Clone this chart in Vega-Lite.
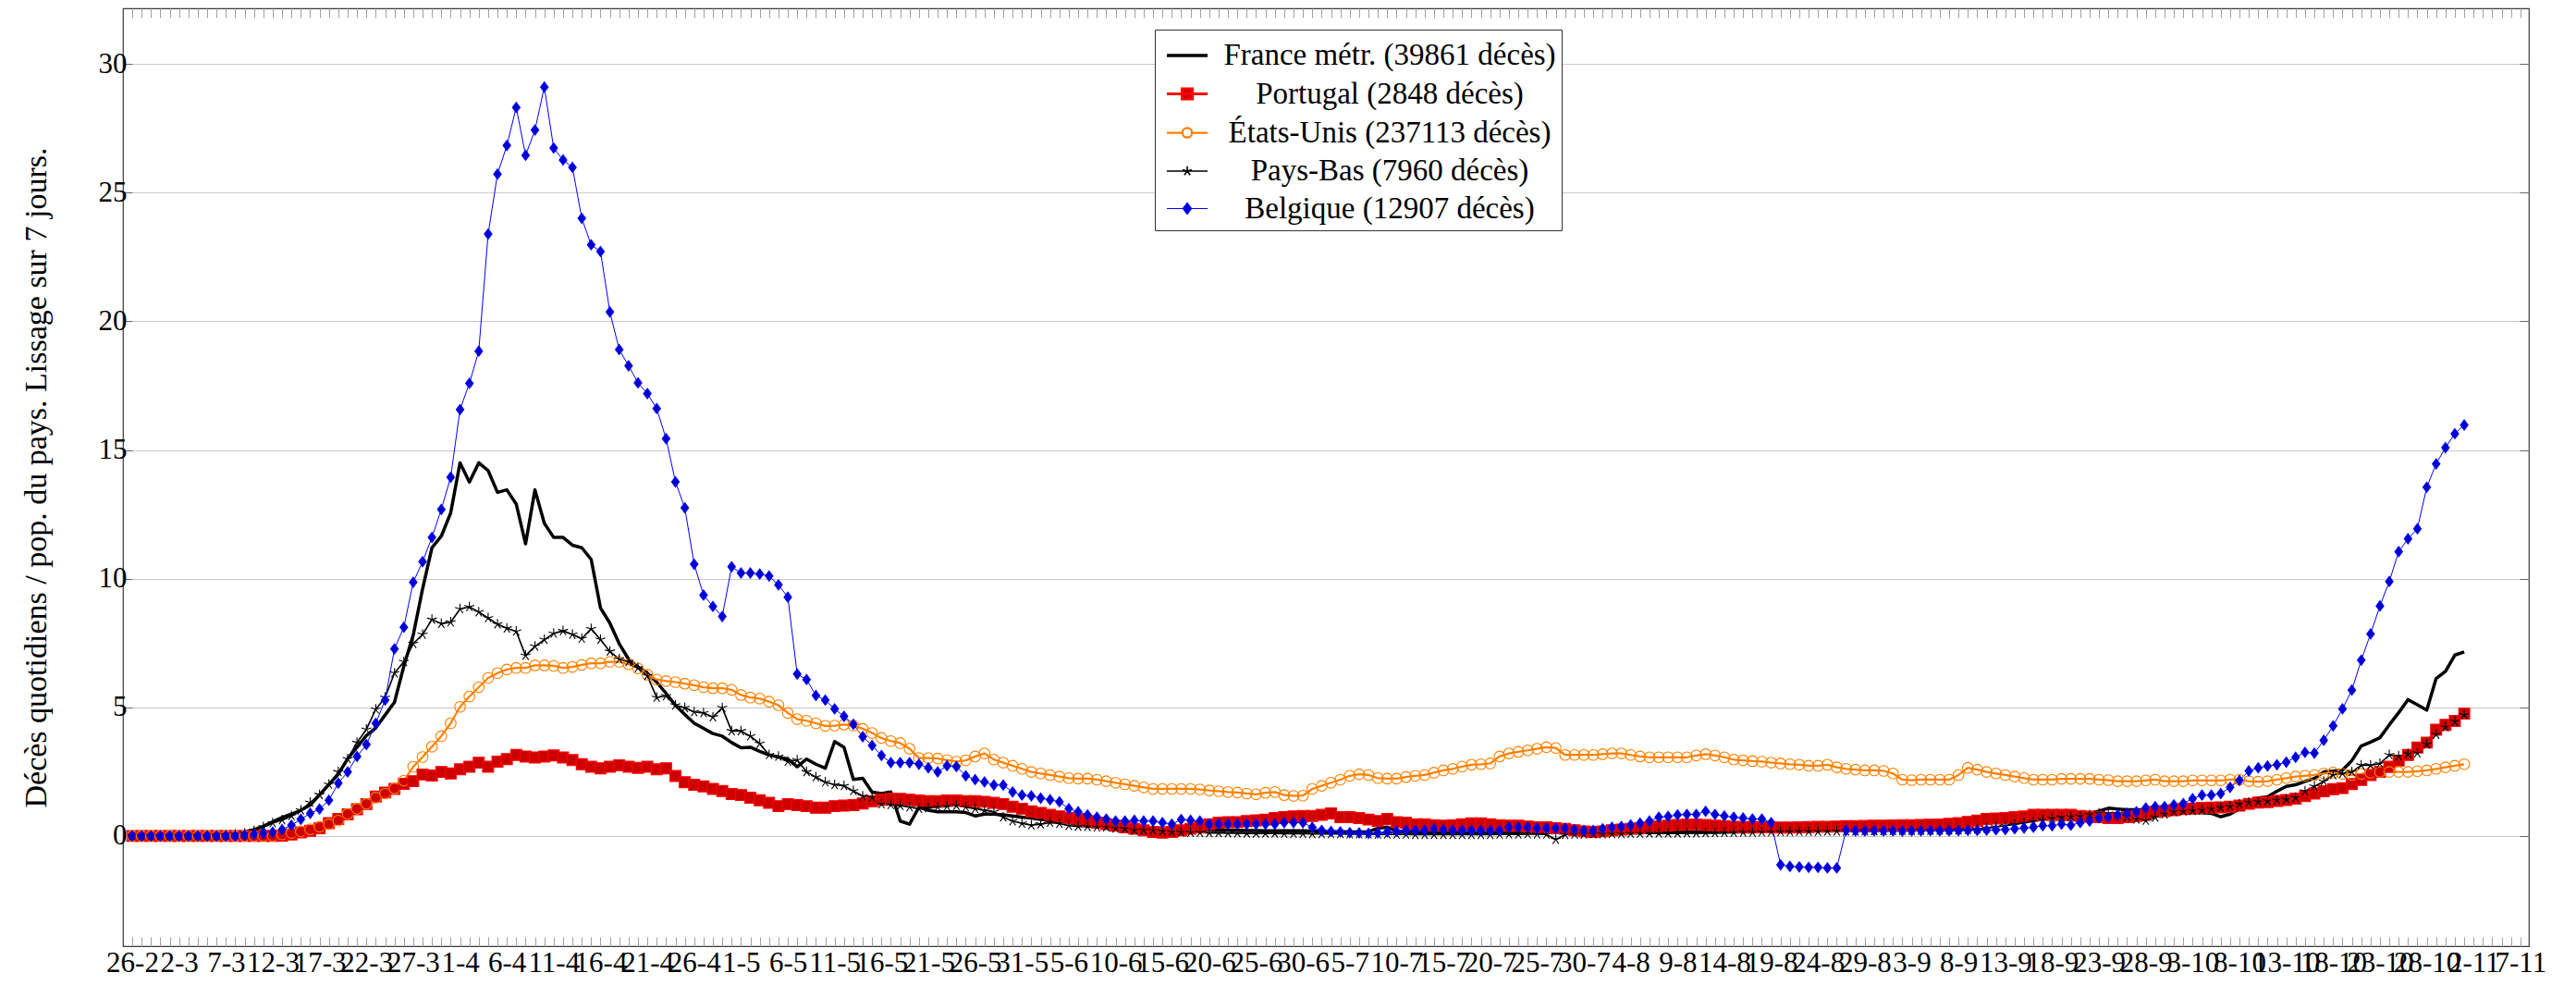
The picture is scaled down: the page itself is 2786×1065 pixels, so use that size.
{
  "$schema": "https://vega.github.io/schema/vega-lite/v6.json",
  "width": 2602,
  "height": 1014,
  "autosize": "none",
  "padding": {"left": 133, "top": 9, "right": 51, "bottom": 42},
  "background": "white",
  "config": {"view": {"stroke": "#3a3a3a", "strokeWidth": 1.2}, "font": "Liberation Serif"},
  "data": {"values": [
{"d":0,"fr":0,"pt":0,"us":0,"nl":0,"be":0},
{"d":1,"fr":0,"pt":0,"us":0,"nl":0,"be":0},
{"d":2,"fr":0,"pt":0,"us":0,"nl":0,"be":0},
{"d":3,"fr":0,"pt":0,"us":0,"nl":0,"be":0},
{"d":4,"fr":0,"pt":0,"us":0,"nl":0,"be":0},
{"d":5,"fr":0,"pt":0,"us":0,"nl":0,"be":0},
{"d":6,"fr":0.01,"pt":0,"us":0,"nl":0,"be":0},
{"d":7,"fr":0.01,"pt":0,"us":0,"nl":0,"be":0},
{"d":8,"fr":0.02,"pt":0,"us":0,"nl":0,"be":0},
{"d":9,"fr":0.04,"pt":0,"us":0,"nl":0.01,"be":0},
{"d":10,"fr":0.07,"pt":0,"us":0,"nl":0.03,"be":0},
{"d":11,"fr":0.1,"pt":0,"us":0,"nl":0.06,"be":0},
{"d":12,"fr":0.16,"pt":0,"us":0,"nl":0.1,"be":0.03},
{"d":13,"fr":0.25,"pt":0,"us":0,"nl":0.2,"be":0.07},
{"d":14,"fr":0.38,"pt":0,"us":0,"nl":0.35,"be":0.1},
{"d":15,"fr":0.55,"pt":0,"us":0,"nl":0.5,"be":0.15},
{"d":16,"fr":0.72,"pt":0.01,"us":0.06,"nl":0.62,"be":0.25},
{"d":17,"fr":0.85,"pt":0.06,"us":0.12,"nl":0.78,"be":0.42},
{"d":18,"fr":1.0,"pt":0.14,"us":0.18,"nl":1.0,"be":0.65},
{"d":19,"fr":1.2,"pt":0.2,"us":0.26,"nl":1.3,"be":0.88},
{"d":20,"fr":1.6,"pt":0.3,"us":0.36,"nl":1.6,"be":1.05},
{"d":21,"fr":2.0,"pt":0.5,"us":0.46,"nl":2.0,"be":1.39},
{"d":22,"fr":2.4,"pt":0.66,"us":0.6,"nl":2.49,"be":2.05},
{"d":23,"fr":3.0,"pt":0.84,"us":0.86,"nl":2.99,"be":2.49},
{"d":24,"fr":3.45,"pt":1.04,"us":1.06,"nl":3.63,"be":3.09},
{"d":25,"fr":3.9,"pt":1.24,"us":1.25,"nl":4.14,"be":3.55},
{"d":26,"fr":4.2,"pt":1.53,"us":1.49,"nl":4.92,"be":4.38},
{"d":27,"fr":4.7,"pt":1.69,"us":1.65,"nl":5.38,"be":5.28},
{"d":28,"fr":5.2,"pt":1.83,"us":1.85,"nl":6.33,"be":7.27},
{"d":29,"fr":6.6,"pt":2.03,"us":2.15,"nl":6.77,"be":8.11},
{"d":30,"fr":7.8,"pt":2.13,"us":2.69,"nl":7.47,"be":9.86},
{"d":31,"fr":9.6,"pt":2.39,"us":3.07,"nl":7.83,"be":10.66},
{"d":32,"fr":11.2,"pt":2.35,"us":3.47,"nl":8.41,"be":11.6},
{"d":33,"fr":11.65,"pt":2.49,"us":3.88,"nl":8.25,"be":12.69},
{"d":34,"fr":12.55,"pt":2.43,"us":4.38,"nl":8.31,"be":13.94},
{"d":35,"fr":14.5,"pt":2.59,"us":5.02,"nl":8.82,"be":16.57},
{"d":36,"fr":13.75,"pt":2.69,"us":5.42,"nl":8.9,"be":17.59},
{"d":37,"fr":14.5,"pt":2.85,"us":5.78,"nl":8.7,"be":18.84},
{"d":38,"fr":14.2,"pt":2.69,"us":6.14,"nl":8.47,"be":23.39},
{"d":39,"fr":13.35,"pt":2.89,"us":6.33,"nl":8.23,"be":25.72},
{"d":40,"fr":13.45,"pt":2.99,"us":6.47,"nl":8.07,"be":26.83},
{"d":41,"fr":12.9,"pt":3.15,"us":6.53,"nl":7.95,"be":28.31},
{"d":42,"fr":11.35,"pt":3.09,"us":6.53,"nl":7.01,"be":26.45},
{"d":43,"fr":13.45,"pt":3.05,"us":6.63,"nl":7.37,"be":27.43},
{"d":44,"fr":12.15,"pt":3.09,"us":6.63,"nl":7.63,"be":29.1},
{"d":45,"fr":11.6,"pt":3.13,"us":6.61,"nl":7.87,"be":26.73},
{"d":46,"fr":11.6,"pt":3.05,"us":6.53,"nl":7.97,"be":26.27},
{"d":47,"fr":11.3,"pt":2.95,"us":6.57,"nl":7.83,"be":25.98},
{"d":48,"fr":11.2,"pt":2.79,"us":6.65,"nl":7.67,"be":24.0},
{"d":49,"fr":10.75,"pt":2.69,"us":6.71,"nl":8.05,"be":22.97},
{"d":50,"fr":8.86,"pt":2.63,"us":6.71,"nl":7.63,"be":22.71},
{"d":51,"fr":8.27,"pt":2.69,"us":6.77,"nl":7.17,"be":20.36},
{"d":52,"fr":7.47,"pt":2.75,"us":6.77,"nl":6.87,"be":18.9},
{"d":53,"fr":6.87,"pt":2.69,"us":6.67,"nl":6.77,"be":18.27},
{"d":54,"fr":6.57,"pt":2.65,"us":6.51,"nl":6.53,"be":17.61},
{"d":55,"fr":6.33,"pt":2.69,"us":6.27,"nl":6.22,"be":17.19},
{"d":56,"fr":5.98,"pt":2.59,"us":6.08,"nl":5.38,"be":16.61},
{"d":57,"fr":5.54,"pt":2.63,"us":6.02,"nl":5.44,"be":15.44},
{"d":58,"fr":5.08,"pt":2.33,"us":5.98,"nl":5.08,"be":13.76},
{"d":59,"fr":4.72,"pt":2.09,"us":5.92,"nl":4.98,"be":12.75},
{"d":60,"fr":4.38,"pt":1.99,"us":5.86,"nl":4.82,"be":10.56},
{"d":61,"fr":4.18,"pt":1.93,"us":5.78,"nl":4.78,"be":9.36},
{"d":62,"fr":3.98,"pt":1.83,"us":5.74,"nl":4.62,"be":8.92},
{"d":63,"fr":3.88,"pt":1.75,"us":5.74,"nl":4.98,"be":8.53},
{"d":64,"fr":3.63,"pt":1.63,"us":5.68,"nl":4.08,"be":10.46},
{"d":65,"fr":3.43,"pt":1.59,"us":5.48,"nl":4.08,"be":10.22},
{"d":66,"fr":3.45,"pt":1.49,"us":5.38,"nl":3.88,"be":10.22},
{"d":67,"fr":3.29,"pt":1.39,"us":5.34,"nl":3.59,"be":10.18},
{"d":68,"fr":3.15,"pt":1.29,"us":5.22,"nl":3.15,"be":10.1},
{"d":69,"fr":3.07,"pt":1.16,"us":5.08,"nl":3.09,"be":9.76},
{"d":70,"fr":2.99,"pt":1.24,"us":4.78,"nl":2.89,"be":9.28},
{"d":71,"fr":2.69,"pt":1.2,"us":4.54,"nl":2.95,"be":6.29},
{"d":72,"fr":2.99,"pt":1.16,"us":4.48,"nl":2.49,"be":6.08},
{"d":73,"fr":2.79,"pt":1.1,"us":4.38,"nl":2.29,"be":5.46},
{"d":74,"fr":2.63,"pt":1.1,"us":4.28,"nl":2.09,"be":5.28},
{"d":75,"fr":3.67,"pt":1.16,"us":4.29,"nl":1.99,"be":4.94},
{"d":76,"fr":3.45,"pt":1.18,"us":4.33,"nl":1.95,"be":4.65},
{"d":77,"fr":2.2,"pt":1.2,"us":4.29,"nl":1.75,"be":4.34},
{"d":78,"fr":2.24,"pt":1.26,"us":4.17,"nl":1.55,"be":3.86},
{"d":79,"fr":1.7,"pt":1.35,"us":4.0,"nl":1.5,"be":3.52},
{"d":80,"fr":1.65,"pt":1.41,"us":3.81,"nl":1.24,"be":3.13},
{"d":81,"fr":1.71,"pt":1.44,"us":3.69,"nl":1.21,"be":2.85},
{"d":82,"fr":0.58,"pt":1.44,"us":3.61,"nl":1.18,"be":2.85},
{"d":83,"fr":0.46,"pt":1.41,"us":3.39,"nl":1.12,"be":2.85},
{"d":84,"fr":1.12,"pt":1.38,"us":3.03,"nl":1.06,"be":2.79},
{"d":85,"fr":1.0,"pt":1.35,"us":3.03,"nl":1.09,"be":2.65},
{"d":86,"fr":0.94,"pt":1.35,"us":3.01,"nl":1.12,"be":2.49},
{"d":87,"fr":0.94,"pt":1.38,"us":2.95,"nl":1.15,"be":2.73},
{"d":88,"fr":0.94,"pt":1.38,"us":2.89,"nl":1.18,"be":2.7},
{"d":89,"fr":0.91,"pt":1.35,"us":2.94,"nl":1.12,"be":2.34},
{"d":90,"fr":0.78,"pt":1.35,"us":3.09,"nl":1.06,"be":2.19},
{"d":91,"fr":0.85,"pt":1.33,"us":3.21,"nl":1.0,"be":2.1},
{"d":92,"fr":0.85,"pt":1.29,"us":2.97,"nl":0.94,"be":1.98},
{"d":93,"fr":0.82,"pt":1.24,"us":2.85,"nl":0.73,"be":1.98},
{"d":94,"fr":0.78,"pt":1.14,"us":2.73,"nl":0.58,"be":1.71},
{"d":95,"fr":0.73,"pt":1.06,"us":2.61,"nl":0.49,"be":1.59},
{"d":96,"fr":0.7,"pt":0.96,"us":2.49,"nl":0.42,"be":1.56},
{"d":97,"fr":0.64,"pt":0.9,"us":2.43,"nl":0.46,"be":1.47},
{"d":98,"fr":0.61,"pt":0.82,"us":2.37,"nl":0.52,"be":1.41},
{"d":99,"fr":0.58,"pt":0.76,"us":2.31,"nl":0.48,"be":1.33},
{"d":100,"fr":0.52,"pt":0.7,"us":2.25,"nl":0.4,"be":1.06},
{"d":101,"fr":0.49,"pt":0.64,"us":2.23,"nl":0.37,"be":0.94},
{"d":102,"fr":0.46,"pt":0.58,"us":2.23,"nl":0.36,"be":0.82},
{"d":103,"fr":0.42,"pt":0.52,"us":2.19,"nl":0.34,"be":0.73},
{"d":104,"fr":0.4,"pt":0.46,"us":2.13,"nl":0.34,"be":0.66},
{"d":105,"fr":0.38,"pt":0.4,"us":2.07,"nl":0.3,"be":0.58},
{"d":106,"fr":0.36,"pt":0.34,"us":2.01,"nl":0.28,"be":0.58},
{"d":107,"fr":0.35,"pt":0.28,"us":1.95,"nl":0.22,"be":0.61},
{"d":108,"fr":0.33,"pt":0.22,"us":1.89,"nl":0.22,"be":0.58},
{"d":109,"fr":0.32,"pt":0.16,"us":1.83,"nl":0.22,"be":0.58},
{"d":110,"fr":0.3,"pt":0.13,"us":1.83,"nl":0.18,"be":0.52},
{"d":111,"fr":0.3,"pt":0.16,"us":1.83,"nl":0.15,"be":0.46},
{"d":112,"fr":0.28,"pt":0.22,"us":1.83,"nl":0.14,"be":0.64},
{"d":113,"fr":0.27,"pt":0.28,"us":1.83,"nl":0.13,"be":0.61},
{"d":114,"fr":0.26,"pt":0.34,"us":1.81,"nl":0.13,"be":0.58},
{"d":115,"fr":0.25,"pt":0.46,"us":1.77,"nl":0.12,"be":0.46},
{"d":116,"fr":0.24,"pt":0.52,"us":1.74,"nl":0.12,"be":0.46},
{"d":117,"fr":0.23,"pt":0.54,"us":1.71,"nl":0.11,"be":0.46},
{"d":118,"fr":0.22,"pt":0.54,"us":1.69,"nl":0.11,"be":0.46},
{"d":119,"fr":0.21,"pt":0.58,"us":1.65,"nl":0.1,"be":0.46},
{"d":120,"fr":0.21,"pt":0.61,"us":1.62,"nl":0.1,"be":0.46},
{"d":121,"fr":0.2,"pt":0.64,"us":1.68,"nl":0.1,"be":0.46},
{"d":122,"fr":0.2,"pt":0.7,"us":1.71,"nl":0.1,"be":0.46},
{"d":123,"fr":0.2,"pt":0.73,"us":1.59,"nl":0.09,"be":0.52},
{"d":124,"fr":0.2,"pt":0.76,"us":1.56,"nl":0.09,"be":0.52},
{"d":125,"fr":0.2,"pt":0.78,"us":1.57,"nl":0.09,"be":0.52},
{"d":126,"fr":0.19,"pt":0.78,"us":1.83,"nl":0.08,"be":0.34},
{"d":127,"fr":0.18,"pt":0.82,"us":1.95,"nl":0.08,"be":0.22},
{"d":128,"fr":0.17,"pt":0.88,"us":2.07,"nl":0.08,"be":0.18},
{"d":129,"fr":0.17,"pt":0.73,"us":2.19,"nl":0.08,"be":0.16},
{"d":130,"fr":0.16,"pt":0.73,"us":2.34,"nl":0.07,"be":0.13},
{"d":131,"fr":0.16,"pt":0.7,"us":2.4,"nl":0.07,"be":0.12},
{"d":132,"fr":0.17,"pt":0.64,"us":2.37,"nl":0.07,"be":0.1},
{"d":133,"fr":0.3,"pt":0.58,"us":2.25,"nl":0.06,"be":0.12},
{"d":134,"fr":0.35,"pt":0.66,"us":2.23,"nl":0.06,"be":0.16},
{"d":135,"fr":0.2,"pt":0.54,"us":2.23,"nl":0.06,"be":0.18},
{"d":136,"fr":0.15,"pt":0.52,"us":2.29,"nl":0.06,"be":0.22},
{"d":137,"fr":0.14,"pt":0.46,"us":2.34,"nl":0.05,"be":0.22},
{"d":138,"fr":0.13,"pt":0.46,"us":2.37,"nl":0.05,"be":0.22},
{"d":139,"fr":0.13,"pt":0.42,"us":2.46,"nl":0.05,"be":0.28},
{"d":140,"fr":0.12,"pt":0.4,"us":2.55,"nl":0.05,"be":0.25},
{"d":141,"fr":0.12,"pt":0.42,"us":2.61,"nl":0.05,"be":0.22},
{"d":142,"fr":0.12,"pt":0.46,"us":2.7,"nl":0.05,"be":0.22},
{"d":143,"fr":0.12,"pt":0.49,"us":2.77,"nl":0.05,"be":0.22},
{"d":144,"fr":0.12,"pt":0.49,"us":2.79,"nl":0.05,"be":0.22},
{"d":145,"fr":0.12,"pt":0.46,"us":2.82,"nl":0.05,"be":0.22},
{"d":146,"fr":0.12,"pt":0.42,"us":3.09,"nl":0.06,"be":0.22},
{"d":147,"fr":0.13,"pt":0.4,"us":3.21,"nl":0.06,"be":0.34},
{"d":148,"fr":0.13,"pt":0.4,"us":3.27,"nl":0.06,"be":0.34},
{"d":149,"fr":0.13,"pt":0.37,"us":3.33,"nl":0.07,"be":0.34},
{"d":150,"fr":0.13,"pt":0.34,"us":3.39,"nl":0.07,"be":0.3},
{"d":151,"fr":0.13,"pt":0.34,"us":3.45,"nl":0.06,"be":0.3},
{"d":152,"fr":0.13,"pt":0.3,"us":3.42,"nl":-0.14,"be":0.3},
{"d":153,"fr":0.14,"pt":0.28,"us":3.15,"nl":0.05,"be":0.3},
{"d":154,"fr":0.14,"pt":0.22,"us":3.15,"nl":0.06,"be":0.25},
{"d":155,"fr":0.14,"pt":0.18,"us":3.15,"nl":0.06,"be":0.22},
{"d":156,"fr":0.15,"pt":0.16,"us":3.15,"nl":0.07,"be":0.22},
{"d":157,"fr":0.15,"pt":0.18,"us":3.18,"nl":0.07,"be":0.28},
{"d":158,"fr":0.16,"pt":0.22,"us":3.21,"nl":0.08,"be":0.34},
{"d":159,"fr":0.15,"pt":0.25,"us":3.21,"nl":0.08,"be":0.37},
{"d":160,"fr":0.15,"pt":0.28,"us":3.15,"nl":0.09,"be":0.43},
{"d":161,"fr":0.15,"pt":0.3,"us":3.09,"nl":0.09,"be":0.5},
{"d":162,"fr":0.15,"pt":0.34,"us":3.06,"nl":0.1,"be":0.58},
{"d":163,"fr":0.15,"pt":0.37,"us":3.06,"nl":0.1,"be":0.73},
{"d":164,"fr":0.15,"pt":0.4,"us":3.06,"nl":0.1,"be":0.76},
{"d":165,"fr":0.15,"pt":0.43,"us":3.06,"nl":0.1,"be":0.82},
{"d":166,"fr":0.15,"pt":0.45,"us":3.06,"nl":0.11,"be":0.84},
{"d":167,"fr":0.15,"pt":0.45,"us":3.13,"nl":0.11,"be":0.84},
{"d":168,"fr":0.15,"pt":0.43,"us":3.18,"nl":0.12,"be":0.96},
{"d":169,"fr":0.15,"pt":0.4,"us":3.13,"nl":0.12,"be":0.84},
{"d":170,"fr":0.15,"pt":0.38,"us":3.06,"nl":0.13,"be":0.78},
{"d":171,"fr":0.16,"pt":0.36,"us":2.97,"nl":0.13,"be":0.73},
{"d":172,"fr":0.16,"pt":0.35,"us":2.94,"nl":0.14,"be":0.7},
{"d":173,"fr":0.16,"pt":0.35,"us":2.91,"nl":0.14,"be":0.66},
{"d":174,"fr":0.17,"pt":0.34,"us":2.89,"nl":0.15,"be":0.66},
{"d":175,"fr":0.17,"pt":0.34,"us":2.85,"nl":0.15,"be":0.52},
{"d":176,"fr":0.18,"pt":0.33,"us":2.82,"nl":0.16,"be":-1.12},
{"d":177,"fr":0.19,"pt":0.33,"us":2.79,"nl":0.16,"be":-1.18},
{"d":178,"fr":0.2,"pt":0.34,"us":2.77,"nl":0.17,"be":-1.2},
{"d":179,"fr":0.21,"pt":0.35,"us":2.73,"nl":0.17,"be":-1.22},
{"d":180,"fr":0.22,"pt":0.36,"us":2.73,"nl":0.17,"be":-1.22},
{"d":181,"fr":0.23,"pt":0.36,"us":2.77,"nl":0.18,"be":-1.24},
{"d":182,"fr":0.24,"pt":0.37,"us":2.67,"nl":0.18,"be":-1.24},
{"d":183,"fr":0.25,"pt":0.38,"us":2.61,"nl":0.18,"be":0.22},
{"d":184,"fr":0.26,"pt":0.38,"us":2.58,"nl":0.18,"be":0.2},
{"d":185,"fr":0.27,"pt":0.39,"us":2.55,"nl":0.19,"be":0.2},
{"d":186,"fr":0.28,"pt":0.4,"us":2.55,"nl":0.19,"be":0.21},
{"d":187,"fr":0.29,"pt":0.4,"us":2.53,"nl":0.19,"be":0.2},
{"d":188,"fr":0.3,"pt":0.41,"us":2.43,"nl":0.2,"be":0.2},
{"d":189,"fr":0.31,"pt":0.42,"us":2.19,"nl":0.2,"be":0.19},
{"d":190,"fr":0.32,"pt":0.42,"us":2.17,"nl":0.2,"be":0.2},
{"d":191,"fr":0.34,"pt":0.43,"us":2.19,"nl":0.21,"be":0.2},
{"d":192,"fr":0.36,"pt":0.44,"us":2.19,"nl":0.21,"be":0.21},
{"d":193,"fr":0.38,"pt":0.45,"us":2.19,"nl":0.22,"be":0.2},
{"d":194,"fr":0.4,"pt":0.47,"us":2.19,"nl":0.22,"be":0.2},
{"d":195,"fr":0.43,"pt":0.5,"us":2.37,"nl":0.23,"be":0.21},
{"d":196,"fr":0.47,"pt":0.55,"us":2.65,"nl":0.24,"be":0.22},
{"d":197,"fr":0.55,"pt":0.6,"us":2.58,"nl":0.26,"be":0.22},
{"d":198,"fr":0.65,"pt":0.66,"us":2.49,"nl":0.3,"be":0.23},
{"d":199,"fr":0.72,"pt":0.68,"us":2.43,"nl":0.35,"be":0.24},
{"d":200,"fr":0.74,"pt":0.7,"us":2.37,"nl":0.4,"be":0.25},
{"d":201,"fr":0.75,"pt":0.73,"us":2.31,"nl":0.45,"be":0.28},
{"d":202,"fr":0.76,"pt":0.76,"us":2.25,"nl":0.5,"be":0.31},
{"d":203,"fr":0.78,"pt":0.82,"us":2.19,"nl":0.56,"be":0.34},
{"d":204,"fr":0.8,"pt":0.82,"us":2.19,"nl":0.62,"be":0.4},
{"d":205,"fr":0.82,"pt":0.82,"us":2.19,"nl":0.68,"be":0.4},
{"d":206,"fr":0.83,"pt":0.82,"us":2.22,"nl":0.72,"be":0.46},
{"d":207,"fr":0.84,"pt":0.82,"us":2.22,"nl":0.74,"be":0.42},
{"d":208,"fr":0.85,"pt":0.78,"us":2.22,"nl":0.76,"be":0.52},
{"d":209,"fr":0.88,"pt":0.75,"us":2.22,"nl":0.82,"be":0.58},
{"d":210,"fr":0.97,"pt":0.73,"us":2.19,"nl":0.88,"be":0.7},
{"d":211,"fr":1.08,"pt":0.7,"us":2.17,"nl":0.88,"be":0.73},
{"d":212,"fr":1.05,"pt":0.7,"us":2.13,"nl":0.85,"be":0.82},
{"d":213,"fr":1.02,"pt":0.73,"us":2.13,"nl":0.75,"be":0.88},
{"d":214,"fr":1.02,"pt":0.78,"us":2.13,"nl":0.65,"be":0.94},
{"d":215,"fr":1.02,"pt":0.82,"us":2.16,"nl":0.6,"be":1.09},
{"d":216,"fr":1.0,"pt":0.94,"us":2.19,"nl":0.72,"be":1.14},
{"d":217,"fr":0.95,"pt":0.97,"us":2.13,"nl":0.85,"be":1.14},
{"d":218,"fr":0.93,"pt":1.0,"us":2.13,"nl":0.94,"be":1.21},
{"d":219,"fr":0.9,"pt":1.05,"us":2.13,"nl":0.96,"be":1.26},
{"d":220,"fr":0.9,"pt":1.07,"us":2.16,"nl":0.98,"be":1.45},
{"d":221,"fr":0.9,"pt":1.09,"us":2.16,"nl":1.0,"be":1.59},
{"d":222,"fr":0.88,"pt":1.1,"us":2.16,"nl":1.05,"be":1.59},
{"d":223,"fr":0.75,"pt":1.11,"us":2.16,"nl":1.1,"be":1.65},
{"d":224,"fr":0.85,"pt":1.14,"us":2.19,"nl":1.15,"be":1.89},
{"d":225,"fr":1.05,"pt":1.18,"us":2.19,"nl":1.24,"be":2.16},
{"d":226,"fr":1.25,"pt":1.25,"us":2.13,"nl":1.3,"be":2.53},
{"d":227,"fr":1.48,"pt":1.3,"us":2.11,"nl":1.33,"be":2.65},
{"d":228,"fr":1.52,"pt":1.32,"us":2.13,"nl":1.36,"be":2.72},
{"d":229,"fr":1.74,"pt":1.36,"us":2.19,"nl":1.39,"be":2.77},
{"d":230,"fr":1.93,"pt":1.4,"us":2.25,"nl":1.42,"be":2.87},
{"d":231,"fr":1.99,"pt":1.45,"us":2.31,"nl":1.49,"be":3.06},
{"d":232,"fr":2.12,"pt":1.55,"us":2.34,"nl":1.74,"be":3.25},
{"d":233,"fr":2.24,"pt":1.65,"us":2.37,"nl":1.93,"be":3.22},
{"d":234,"fr":2.49,"pt":1.74,"us":2.43,"nl":2.12,"be":3.72},
{"d":235,"fr":2.52,"pt":1.82,"us":2.46,"nl":2.37,"be":4.28},
{"d":236,"fr":2.56,"pt":1.86,"us":2.41,"nl":2.43,"be":4.94},
{"d":237,"fr":2.93,"pt":2.02,"us":2.37,"nl":2.49,"be":5.67},
{"d":238,"fr":3.5,"pt":2.18,"us":2.41,"nl":2.75,"be":6.83},
{"d":239,"fr":3.65,"pt":2.37,"us":2.46,"nl":2.75,"be":7.85},
{"d":240,"fr":3.82,"pt":2.49,"us":2.49,"nl":2.81,"be":8.94},
{"d":241,"fr":4.32,"pt":2.69,"us":2.49,"nl":3.15,"be":9.89},
{"d":242,"fr":4.79,"pt":2.93,"us":2.49,"nl":3.1,"be":11.05},
{"d":243,"fr":5.3,"pt":3.15,"us":2.49,"nl":3.19,"be":11.55},
{"d":244,"fr":5.1,"pt":3.44,"us":2.52,"nl":3.22,"be":11.94},
{"d":245,"fr":4.89,"pt":3.63,"us":2.55,"nl":3.56,"be":13.55},
{"d":246,"fr":6.12,"pt":4.13,"us":2.61,"nl":3.94,"be":14.46},
{"d":247,"fr":6.4,"pt":4.32,"us":2.67,"nl":4.23,"be":15.09},
{"d":248,"fr":7.03,"pt":4.47,"us":2.73,"nl":4.45,"be":15.63},
{"d":249,"fr":7.15,"pt":4.76,"us":2.79,"nl":4.7,"be":15.97}
  ]},
  "transform": [{"fold": ["fr", "pt", "us", "nl", "be"], "as": ["k", "v"]}],
  "encoding": {
    "color": {
      "field": "k", "type": "nominal",
      "scale": {"domain": ["fr", "pt", "us", "nl", "be"], "range": ["#000000", "#ff0000", "#ff8000", "#000000", "#0000ff"]},
      "legend": {
        "orient": "none", "legendX": 1116, "legendY": 23, "direction": "vertical",
        "title": null, "padding": 6, "symbolOffset": 7,
        "strokeColor": "#333333", "fillColor": "white",
        "symbolSize": 1600, "symbolStrokeWidth": 1.2, "symbolOpacity": 1,
        "labelFont": "Liberation Serif", "labelFontSize": 33, "labelColor": "black",
        "labelAlign": "center", "labelOffset": 197, "labelLimit": 800, "rowPadding": 3,
        "labelExpr": "datum.label == 'fr' ? 'France métr. (39861 décès)' : datum.label == 'pt' ? 'Portugal (2848 décès)' : datum.label == 'us' ? 'États-Unis (237113 décès)' : datum.label == 'nl' ? 'Pays-Bas (7960 décès)' : 'Belgique (12907 décès)'",
        "encode": {"symbols": {"update": {
          "shape": {"signal": "datum.value == 'fr' ? 'M-1.1,0H1.1' : datum.value == 'pt' ? 'M-1.1,0H1.1M-0.28,-0.28H0.28V0.28H-0.28Z' : datum.value == 'us' ? 'M-1.1,0H-0.26M0.26,0H1.1M0.26,0A0.26,0.26,0,1,1,-0.26,0A0.26,0.26,0,1,1,0.26,0' : datum.value == 'nl' ? 'M-1.1,0H1.1M0,-0.26L0,0M0.247,-0.08L0,0M0.153,0.21L0,0M-0.153,0.21L0,0M-0.247,-0.08L0,0' : 'M-1.1,0H1.1M0,-0.32L0.24,0L0,0.32L-0.24,0Z'"},
          "fill": {"signal": "datum.value == 'pt' ? '#cc0000' : datum.value == 'be' ? '#0000cc' : datum.value == 'us' ? 'white' : 'transparent'"},
          "stroke": {"signal": "datum.value == 'pt' ? '#ff0000' : datum.value == 'us' ? '#ff8000' : datum.value == 'be' ? '#0000ff' : '#000000'"},
          "strokeWidth": {"signal": "datum.value == 'fr' ? 3.5 : 1.2"},
          "opacity": {"value": 1}
        }}}
      }
    }
  },
  "layer": [
    {
      "mark": {"type": "line", "strokeJoin": "round"},
      "encoding": {
        "x": {"field": "d", "type": "quantitative",
          "scale": {"domain": [-0.99, 255.9], "nice": false, "zero": false},
          "axis": {"orient": "bottom", "title": null, "domain": false, "grid": false,
            "values": [0,1,2,3,4,5,6,7,8,9,10,11,12,13,14,15,16,17,18,19,20,21,22,23,24,25,26,27,28,29,30,31,32,33,34,35,36,37,38,39,40,41,42,43,44,45,46,47,48,49,50,51,52,53,54,55,56,57,58,59,60,61,62,63,64,65,66,67,68,69,70,71,72,73,74,75,76,77,78,79,80,81,82,83,84,85,86,87,88,89,90,91,92,93,94,95,96,97,98,99,100,101,102,103,104,105,106,107,108,109,110,111,112,113,114,115,116,117,118,119,120,121,122,123,124,125,126,127,128,129,130,131,132,133,134,135,136,137,138,139,140,141,142,143,144,145,146,147,148,149,150,151,152,153,154,155,156,157,158,159,160,161,162,163,164,165,166,167,168,169,170,171,172,173,174,175,176,177,178,179,180,181,182,183,184,185,186,187,188,189,190,191,192,193,194,195,196,197,198,199,200,201,202,203,204,205,206,207,208,209,210,211,212,213,214,215,216,217,218,219,220,221,222,223,224,225,226,227,228,229,230,231,232,233,234,235,236,237,238,239,240,241,242,243,244,245,246,247,248,249,250,251,252,253,254,255],
            "tickSize": -10, "tickColor": "#a0a0a0", "tickWidth": 1,
            "labelExpr": "datum.value % 5 == 0 ? timeFormat(datetime(2020, 1, 26 + datum.value), '%-d-%-m') : ''",
            "labelFont": "Liberation Serif", "labelFontSize": 31, "labelColor": "black",
            "labelPadding": 13, "labelOverlap": false, "labelFlush": false, "labelBound": false, "labelAngle": 0}},
        "y": {"field": "v", "type": "quantitative",
          "scale": {"domain": [-4.28, 32.16], "nice": false, "zero": false},
          "axis": {"orient": "left", "values": [0, 5, 10, 15, 20, 25, 30], "domain": false,
            "grid": true, "gridColor": "#c8c8c8", "gridWidth": 1,
            "tickSize": -10, "tickColor": "#666666", "tickWidth": 1,
            "labelFont": "Liberation Serif", "labelFontSize": 31, "labelColor": "black", "labelPadding": 6,
            "title": "Décès quotidiens / pop. du pays. Lissage sur 7 jours.",
            "titleFont": "Liberation Serif", "titleFontSize": 34, "titleFontWeight": "normal", "titleColor": "black",
            "titlePadding": 50}},
        "strokeWidth": {"field": "k", "type": "nominal",
          "scale": {"domain": ["fr", "pt", "us", "nl", "be"], "range": [3.5, 1, 1.1, 1, 1.1]}, "legend": null}
      }
    },
    {
      "transform": [{"filter": "datum.k != 'fr'"}],
      "mark": {"type": "point", "filled": false, "opacity": 1, "strokeWidth": 1.1},
      "encoding": {
        "x": {"field": "d", "type": "quantitative",
          "scale": {"domain": [-0.99, 255.9], "nice": false, "zero": false},
          "axis": {"orient": "top", "title": null, "domain": false, "grid": false, "labels": false,
            "values": [0,1,2,3,4,5,6,7,8,9,10,11,12,13,14,15,16,17,18,19,20,21,22,23,24,25,26,27,28,29,30,31,32,33,34,35,36,37,38,39,40,41,42,43,44,45,46,47,48,49,50,51,52,53,54,55,56,57,58,59,60,61,62,63,64,65,66,67,68,69,70,71,72,73,74,75,76,77,78,79,80,81,82,83,84,85,86,87,88,89,90,91,92,93,94,95,96,97,98,99,100,101,102,103,104,105,106,107,108,109,110,111,112,113,114,115,116,117,118,119,120,121,122,123,124,125,126,127,128,129,130,131,132,133,134,135,136,137,138,139,140,141,142,143,144,145,146,147,148,149,150,151,152,153,154,155,156,157,158,159,160,161,162,163,164,165,166,167,168,169,170,171,172,173,174,175,176,177,178,179,180,181,182,183,184,185,186,187,188,189,190,191,192,193,194,195,196,197,198,199,200,201,202,203,204,205,206,207,208,209,210,211,212,213,214,215,216,217,218,219,220,221,222,223,224,225,226,227,228,229,230,231,232,233,234,235,236,237,238,239,240,241,242,243,244,245,246,247,248,249,250,251,252,253,254,255],
            "tickSize": -10, "tickColor": "#a0a0a0", "tickWidth": 1}},
        "y": {"field": "v", "type": "quantitative",
          "scale": {"domain": [-4.28, 32.16], "nice": false, "zero": false},
          "axis": {"orient": "right", "values": [0, 5, 10, 15, 20, 25, 30], "domain": false, "grid": false,
            "labels": false, "title": null, "tickSize": -10, "tickColor": "#666666", "tickWidth": 1}},
        "shape": {"field": "k", "type": "nominal",
          "scale": {"domain": ["pt", "us", "nl", "be"],
            "range": ["square", "circle", "M0,-1L0,0M0.951,-0.309L0,0M0.588,0.809L0,0M-0.588,0.809L0,0M-0.951,-0.309L0,0", "M0,-1L0.75,0L0,1L-0.75,0Z"]},
          "legend": null},
        "fill": {"field": "k", "type": "nominal",
          "scale": {"domain": ["pt", "us", "nl", "be"], "range": ["#cc0000", "transparent", "transparent", "#0000cc"]},
          "legend": null},
        "size": {"field": "k", "type": "nominal",
          "scale": {"domain": ["pt", "us", "nl", "be"], "range": [140, 120, 110, 140]},
          "legend": null}
      }
    }
  ],
  "resolve": {"axis": {"x": "independent", "y": "independent"}}
}
